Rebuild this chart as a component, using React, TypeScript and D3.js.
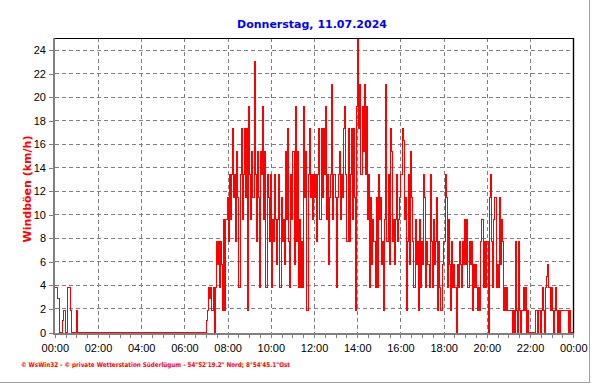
import React from "react";
import * as d3 from "d3";

// Wind gust values (km/h), one value every 3 minutes, per hour
const h00 = [3.8, 3.8, 2.9, 2.9, 0, 0, 0, 1.0, 1.9, 0, 0, 3.8, 3.8, 3.8, 1.9, 0, 0, 0, 0, 0];
const h01 = [1.9, 0, 0, 0, 0, 0, 0, 0, 0, 0, 0, 0, 0, 0, 0, 0, 0, 0, 0, 0];
const h02 = [0, 0, 0, 0, 0, 0, 0, 0, 0, 0, 0, 0, 0, 0, 0, 0, 0, 0, 0, 0];
const h03 = [0, 0, 0, 0, 0, 0, 0, 0, 0, 0, 0, 0, 0, 0, 0, 0, 0, 0, 0, 0];
const h04 = [0, 0, 0, 0, 0, 0, 0, 0, 0, 0, 0, 0, 0, 0, 0, 0, 0, 0, 0, 0];
const h05 = [0, 0, 0, 0, 0, 0, 0, 0, 0, 0, 0, 0, 0, 0, 0, 0, 0, 0, 0, 0];
const h06 = [0, 0, 0, 0, 0, 0, 0, 0, 0, 0, 0, 0, 0, 0, 0, 0, 0, 0, 0, 0];
const h07 = [1.0, 1.9, 3.8, 2.9, 3.8, 1.9, 3.8, 0, 3.8, 7.7, 5.8, 7.7, 3.8, 7.7, 5.8, 1.9, 9.6, 1.9, 9.6, 11.5];
const h08 = [7.7, 13.4, 9.6, 13.4, 17.3, 11.5, 13.4, 7.7, 15.4, 11.5, 3.8, 13.4, 17.3, 9.6, 13.4, 17.3, 11.5, 17.3, 1.9, 19.2];
const h09 = [13.4, 9.6, 15.4, 11.5, 23.0, 13.4, 7.7, 15.4, 11.5, 3.8, 15.4, 13.4, 19.2, 9.6, 15.4, 3.8, 13.4, 11.5, 7.7, 13.4];
const h10 = [3.8, 9.6, 7.7, 13.4, 9.6, 5.8, 9.6, 13.4, 3.8, 11.5, 7.7, 9.6, 5.8, 15.4, 9.6, 17.3, 7.7, 3.8, 13.4, 9.6];
const h11 = [15.4, 5.8, 19.2, 7.7, 15.4, 3.8, 9.6, 3.8, 7.7, 3.8, 19.2, 11.5, 15.4, 1.9, 13.4, 17.3, 11.5, 13.4, 9.6, 13.4];
const h12 = [11.5, 13.4, 7.7, 13.4, 17.3, 9.6, 17.3, 11.5, 17.3, 13.4, 19.2, 9.6, 13.4, 5.8, 11.5, 13.4, 21.1, 9.6, 13.4, 11.5];
const h13 = [3.8, 11.5, 13.4, 15.4, 9.6, 13.4, 11.5, 17.3, 19.2, 13.4, 7.7, 17.3, 7.7, 13.4, 17.3, 9.6, 17.3, 11.5, 1.9, 19.2];
const h14 = [25.0, 17.3, 21.1, 13.4, 19.2, 15.4, 21.1, 13.4, 19.2, 9.6, 13.4, 3.8, 11.5, 5.8, 9.6, 7.7, 3.8, 11.5, 3.8, 13.4];
const h15 = [9.6, 11.5, 5.8, 7.7, 1.9, 9.6, 21.1, 7.7, 13.4, 5.8, 17.3, 15.4, 7.7, 9.6, 5.8, 9.6, 13.4, 7.7, 9.6, 11.5];
const h16 = [13.4, 17.3, 16.3, 9.6, 11.5, 1.9, 7.7, 13.4, 5.8, 15.4, 11.5, 7.7, 3.8, 9.6, 5.8, 7.7, 1.9, 9.6, 3.8, 7.7];
const h17 = [5.8, 13.4, 11.5, 3.8, 7.7, 5.8, 3.8, 13.4, 7.7, 3.8, 9.6, 5.8, 7.7, 11.5, 1.9, 7.7, 3.8, 1.9, 5.8, 7.7];
const h18 = [7.7, 13.4, 11.5, 3.8, 9.6, 5.8, 1.9, 7.7, 3.8, 5.8, 3.8, 0, 5.8, 3.8, 7.7, 5.8, 3.8, 7.7, 5.8, 9.6];
const h19 = [5.8, 9.6, 3.8, 7.7, 5.8, 7.7, 1.9, 5.8, 3.8, 5.8, 3.8, 1.9, 3.8, 1.9, 7.7, 9.6, 3.8, 7.7, 3.8, 7.7];
const h20 = [7.7, 0, 11.5, 13.4, 7.7, 3.8, 9.6, 11.5, 3.8, 5.8, 3.8, 11.5, 5.8, 9.6, 7.7, 1.9, 3.8, 1.9, 3.8, 1.9];
const h21 = [1.9, 1.9, 1.9, 0, 1.9, 0, 7.7, 1.9, 0, 7.7, 1.9, 0, 1.9, 3.8, 1.9, 3.8, 0, 1.9, 0, 0];
const h22 = [0, 0, 0, 0, 0, 1.9, 0, 1.9, 1.9, 0, 1.9, 3.8, 1.9, 0, 3.8, 4.8, 5.8, 3.8, 1.9, 3.8];
const h23 = [1.9, 0, 1.9, 3.8, 1.9, 0, 1.9, 0, 1.9, 1.9, 1.9, 1.9, 1.9, 1.9, 1.9, 0, 1.9, 0, 0, 0];

const xTickLabels = ["00:00", "02:00", "04:00", "06:00", "08:00", "10:00", "12:00", "14:00", "16:00", "18:00", "20:00", "22:00", "00:00"];
const yTicks = [0, 2, 4, 6, 8, 10, 12, 14, 16, 18, 20, 22, 24];

const title = "Donnerstag, 11.07.2024";
const yLabel = "Windböen (km/h)";
const footer = "© WsWin32  -  © private Wetterstation Süderlügum  -  54°52'19.2\" Nord; 8°54'45.1\"Ost";

const STEP_MIN = 3;

export default function App() {
  const hours = [h00, h01, h02, h03, h04, h05, h06, h07, h08, h09, h10, h11, h12, h13, h14, h15, h16, h17, h18, h19, h20, h21, h22, h23];
  const gusts = hours.flat();
  const pts = gusts.map((v, i) => ({ t: i * STEP_MIN, v }));
  pts.push({ t: 1440, v: gusts[gusts.length - 1] });

  const left = 55.3;
  const right = 573.8;
  const top = 38.3;
  const bottom = 332.5;

  const x = d3.scaleLinear().domain([0, 1440]).range([left, right]);
  const y = d3.scaleLinear().domain([0, 25]).range([bottom, top]);

  const line = d3
    .line<{ t: number; v: number }>()
    .x((d) => x(d.t))
    .y((d) => y(d.v))
    .curve(d3.curveStepAfter);

  const majorTimes = xTickLabels.map((_, i) => i * 120);
  const minorTimes = d3.range(0, 1441, 30);

  return (
    <svg
      width={592}
      height={384}
      style={{ position: "absolute", left: 0, top: 0, background: "#fff" }}
    >
      <rect x={0} y={0} width={592} height={384} fill="#fff" />
      {/* outer frame */}
      <line x1={0} y1={382.5} x2={590.5} y2={382.5} stroke="#a0a0a0" strokeWidth={1} />
      <line x1={589.5} y1={0} x2={589.5} y2={383} stroke="#a0a0a0" strokeWidth={1} />

      {/* grid */}
      <g stroke="#808080" strokeWidth={1} strokeDasharray="4,3" shapeRendering="crispEdges">
        {yTicks.filter((v) => v > 0).map((v) => (
          <line key={"gy" + v} x1={left} x2={right} y1={y(v)} y2={y(v)} />
        ))}
        {majorTimes.filter((t) => t > 0).map((t) => (
          <line key={"gx" + t} x1={x(t)} x2={x(t)} y1={top} y2={bottom} />
        ))}
      </g>

      {/* data */}
      <path d={line(pts) || ""} fill="none" stroke="#ff0000" strokeWidth={1} shapeRendering="crispEdges" />

      {/* borders */}
      <line x1={left - 1} x2={right} y1={38.5} y2={38.5} stroke="#000" strokeWidth={1} shapeRendering="crispEdges" />
      <line x1={573.5} x2={573.5} y1={38} y2={334} stroke="#000" strokeWidth={1.4} />
      <rect x={53} y={38} width={2} height={297} fill="#808080" />
      <rect x={53} y={333} width={521} height={2} fill="#808080" />

      {/* y ticks */}
      <g shapeRendering="crispEdges">
        {yTicks.map((v) => (
          <line key={"ty" + v} x1={49} x2={53} y1={Math.round(y(v)) + 0.5} y2={Math.round(y(v)) + 0.5} stroke="#808080" />
        ))}
        {minorTimes.map((t) => (
          <line key={"tx" + t} x1={x(t)} x2={x(t)} y1={335} y2={338} stroke="#808080" />
        ))}
      </g>
      <g fontFamily="'Liberation Sans', Arial, sans-serif" fontSize={11} fill="#000">
        {yTicks.map((v) => (
          <text key={"ly" + v} x={46} y={y(v) + 4} textAnchor="end">
            {v}
          </text>
        ))}
        {xTickLabels.map((s, i) => (
          <text key={"lx" + i} x={x(majorTimes[i])} y={352} textAnchor="middle">
            {s}
          </text>
        ))}
      </g>

      {/* title */}
      <text x={312} y={28} textAnchor="middle" fontFamily="'DejaVu Sans', Verdana, sans-serif" fontWeight="bold" fontSize={11} fill="#0000ff">
        {title}
      </text>
      {/* y label */}
      <text
        transform={`translate(31,189) rotate(-90)`}
        textAnchor="middle"
        fontFamily="'DejaVu Sans', Verdana, sans-serif"
        fontWeight="bold"
        fontSize={11}
        fill="#ff0000"
      >
        {yLabel}
      </text>
      {/* footer */}
      <text
        x={21}
        y={367}
        fontFamily="'DejaVu Sans', Verdana, sans-serif"
        fontWeight="bold"
        fontSize={6.5}
        fill="#ff0000"
        textLength={269}
        lengthAdjust="spacingAndGlyphs"
      >
        {footer}
      </text>
    </svg>
  );
}
